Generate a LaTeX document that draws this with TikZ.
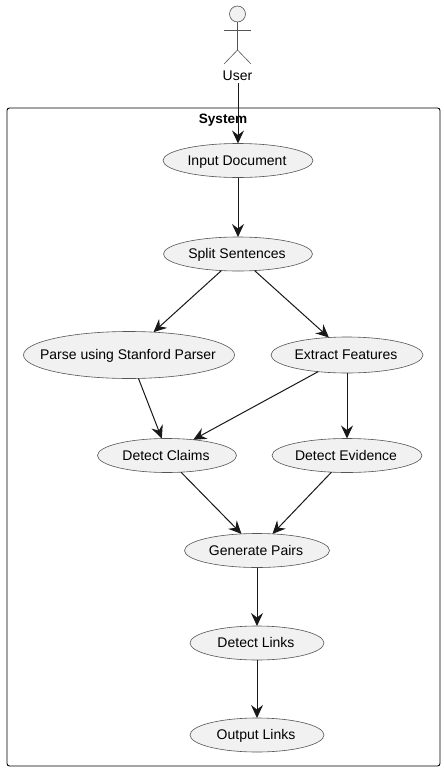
\documentclass[tikz,border=0pt]{standalone}
\usepackage{fontspec}
\setmainfont{Liberation Sans}
\usetikzlibrary{shapes.geometric,arrows.meta}
\definecolor{inkc}{HTML}{181818}
\definecolor{linec}{HTML}{555555}
\definecolor{fillc}{HTML}{F1F1F1}
\tikzset{
  uc/.style={ellipse,draw=linec,fill=fillc,line width=0.6pt,inner sep=0pt,outer sep=0pt,text=black,font=\fontsize{14}{15}\selectfont},
  lab/.style={inner sep=0pt,text=black,font=\fontsize{14}{15}\selectfont},
  conn/.style={draw=inkc,line width=1pt,-{Stealth[length=13pt,width=12pt,inset=4.5pt]}},
  stick/.style={draw=linec,line width=0.6pt}
}
\newcommand{\uc}[5]{\node[uc,minimum width=#3pt,minimum height=#4pt] (#1) at (#2) {\hspace{-2pt}\raisebox{-4.5pt}[0pt][0pt]{\makebox[0pt]{#5}}};}
\begin{document}
\begin{tikzpicture}[x=1pt,y=-1pt]
\useasboundingbox (0,0) rectangle (444,771);
\fill[white] (0,0) rectangle (444,771);
% frame
\node[draw=black,line width=0.9pt,rounded corners=2.5pt,minimum width=433pt,minimum height=658pt,inner sep=0pt] (sys) at (223.5,437) {};
\node[lab,font=\fontsize{13.6}{15}\selectfont\bfseries] (systitle) at (223,120) {System};
% actor
\node[circle,draw=linec,fill=fillc,line width=0.6pt,minimum size=16pt,inner sep=0pt,outer sep=0pt] (head) at (237.5,14) {};
\coordinate (hip) at (237.5,50);
\coordinate (armL) at (224,30);
\coordinate (armR) at (251,30);
\coordinate (legL) at (224,64);
\coordinate (legR) at (251,64);
\draw[stick] (head.south) -- (hip);
\draw[stick] (armL) -- (armR);
\draw[stick] (legL) -- (hip) -- (legR);
\node[lab] (user) at (237.5,75.5) {User};
% use cases
\uc{input}{238,160.5}{150}{34}{Input Document}
\uc{split}{238,254}{149}{34}{Split Sentences}
\uc{parse}{129,355}{211}{47}{Parse using Stanford Parser}
\uc{extract}{347,355}{152}{36}{Extract Features}
\uc{claims}{167,455.5}{139}{34}{Detect Claims}
\uc{evidence}{347,455.5}{150}{34}{Detect Evidence}
\uc{pairs}{257,550.5}{145}{34}{Generate Pairs}
\uc{links}{257,643}{134}{34}{Detect Links}
\uc{output}{257,735}{134}{34}{Output Links}
% connectors
\coordinate (ufoot) at (238,83);
\draw[conn] (ufoot) -- (input.north);
\draw[conn] (input.south) -- (split.north);
\draw[conn] (split.-135) -- (parse.43);
\draw[conn] (split.-45) -- (extract.136);
\draw[conn] (parse.-68) -- (claims.107);
\draw[conn] (extract.-150) -- (claims.31);
\draw[conn] (extract.south) -- (evidence.north);
\draw[conn] (claims.-50) -- (pairs.133);
\draw[conn] (evidence.-133) -- (pairs.47);
\draw[conn] (pairs.south) -- (links.north);
\draw[conn] (links.south) -- (output.north);
\end{tikzpicture}
\end{document}
